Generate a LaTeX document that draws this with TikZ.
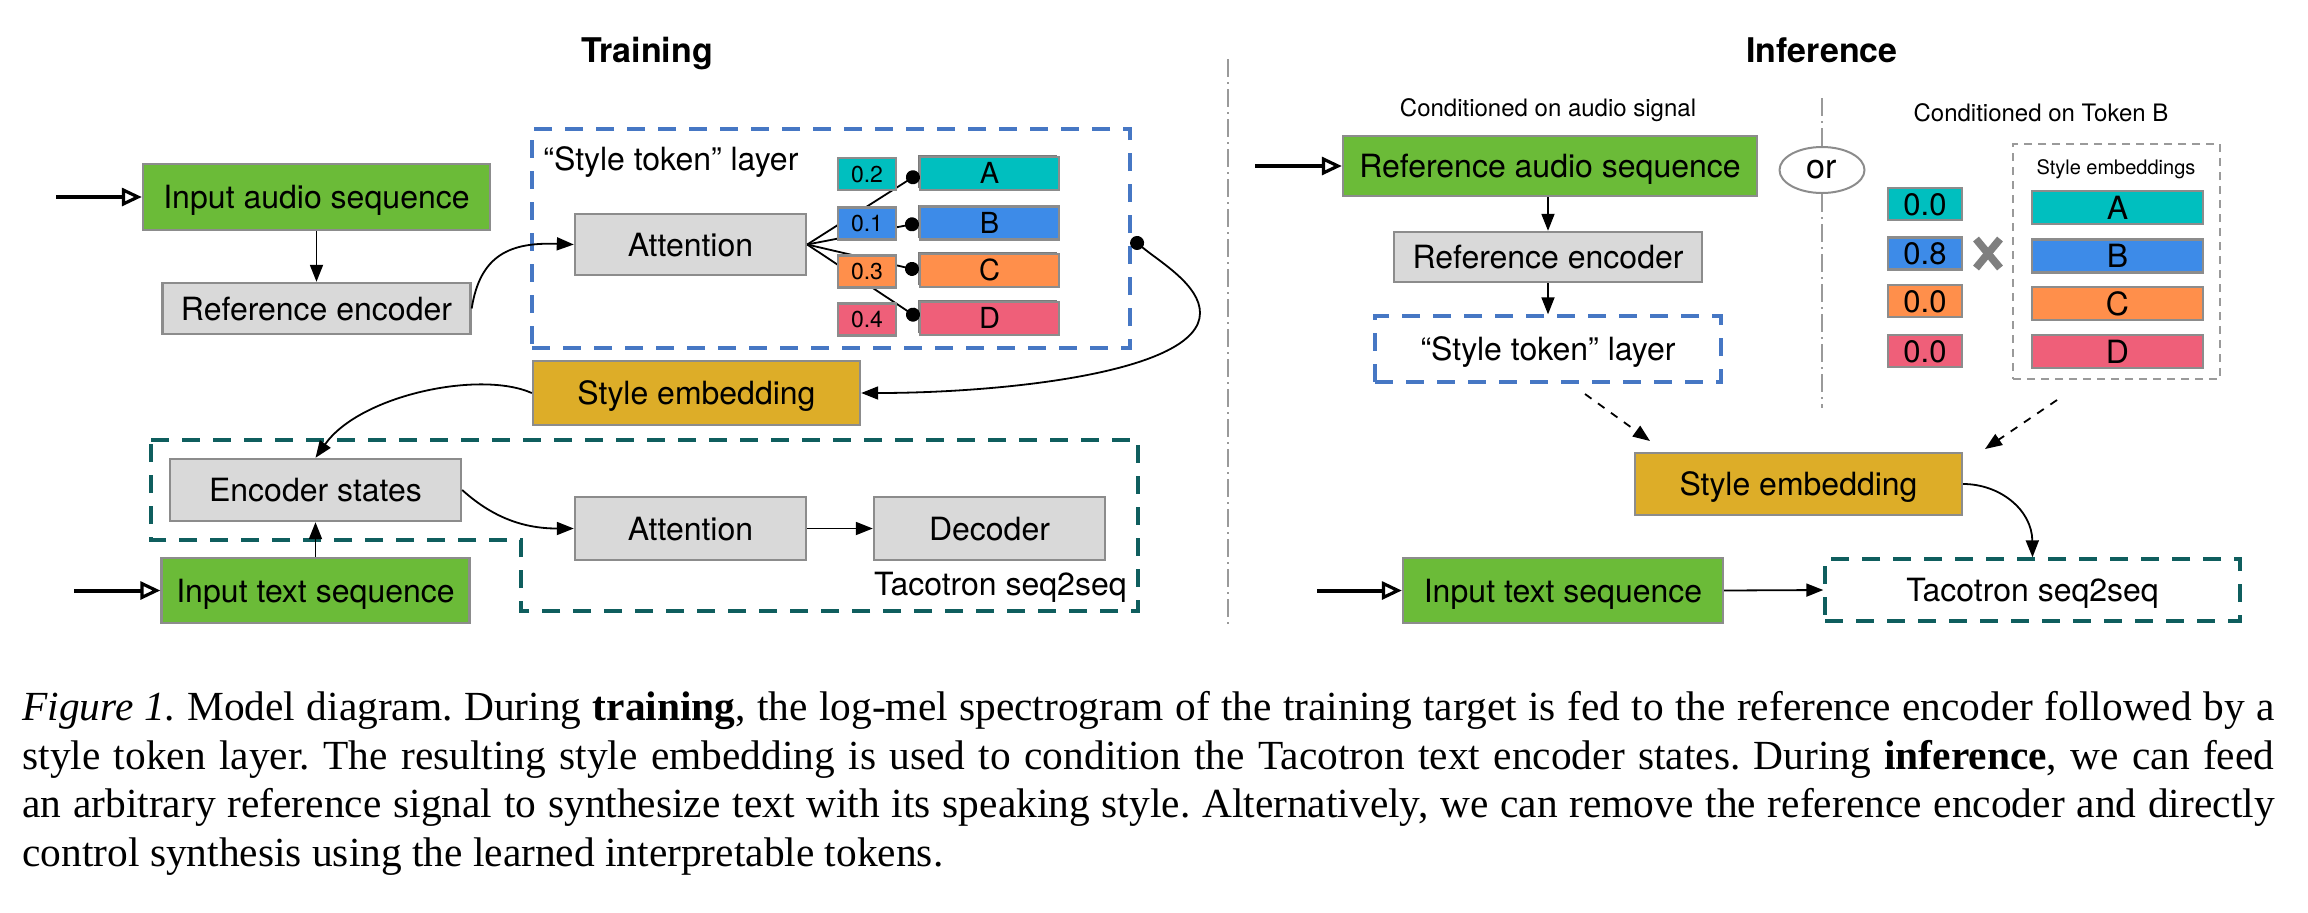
\documentclass[tikz,border=0pt]{standalone}
\usepackage{fontspec}
\setmainfont{TeX Gyre Heros}
\newfontfamily\capfont{Liberation Serif}
\usetikzlibrary{arrows.meta,shapes.geometric,shadows}
\definecolor{gGreen}{HTML}{6BBB38}
\definecolor{bGray}{HTML}{8C8C8C}
\definecolor{boxGray}{HTML}{D9D9D9}
\definecolor{gGold}{HTML}{DDAD28}
\definecolor{tCyan}{HTML}{00BFBF}
\definecolor{tBlue}{HTML}{3D8BE8}
\definecolor{tOrange}{HTML}{FF8F4B}
\definecolor{tRed}{HTML}{EF5F79}
\definecolor{dashBlue}{HTML}{4677C4}
\definecolor{dashTeal}{HTML}{0F5E5E}
\definecolor{shGray}{HTML}{7A7A7A}
\definecolor{sepGray}{HTML}{9A9A9A}
\definecolor{xGray}{HTML}{7F7F7F}
\frenchspacing
\begin{document}
\begin{tikzpicture}[x=0.5pt,y=-0.5pt,
  font=\fontsize{16}{19}\selectfont,
  base/.style={draw=bGray, line width=1.2pt, inner sep=0pt, text height=11.5pt, text depth=0pt},
  greenbox/.style={base, fill=gGreen},
  graybox/.style={base, fill=boxGray},
  goldbox/.style={base, fill=gGold},
  valbox/.style={base, font=\fontsize{11.5}{13}\selectfont, text height=8.3pt, minimum width=29pt, minimum height=16pt},
  tokbox/.style={base, font=\fontsize{14.5}{16}\selectfont, text height=10.4pt, minimum width=69.5pt, minimum height=16.5pt,
     general shadow={fill=shGray, shadow xshift=-1pt, shadow yshift=1pt}},
  valboxB/.style={base, font=\fontsize{15.5}{18}\selectfont, text height=11.2pt, minimum width=37pt, minimum height=16pt},
  tokboxB/.style={base, font=\fontsize{16}{18}\selectfont, text height=11.5pt, minimum width=85.5pt, minimum height=16.5pt},
  lbl/.style={inner sep=0pt, text height=11.5pt, text depth=0pt},
  title/.style={inner sep=0pt, font=\bfseries\fontsize{17}{20}\selectfont, text height=12.2pt, text depth=0pt},
  small/.style={inner sep=0pt, font=\fontsize{12}{14}\selectfont, text height=8.6pt, text depth=0pt},
  tiny/.style={inner sep=0pt, font=\fontsize{10}{12}\selectfont, text height=7.2pt, text depth=0pt},
  arr/.style={-{Triangle[length=8.5pt,width=6.5pt]}, line width=0.9pt},
  darr/.style={-{Triangle[length=8.5pt,width=6.5pt]}, line width=0.9pt, dash pattern=on 4pt off 4pt},
  dotline/.style={-{Circle[length=7pt]}, line width=0.9pt},
  inarr/.style={-{Triangle[open,length=10pt,width=9pt,line width=1.6pt]}, line width=2pt},
  bluedash/.style={draw=dashBlue, line width=1.7pt, dash pattern=on 9pt off 6.5pt},
  tealdash/.style={draw=dashTeal, line width=1.7pt, dash pattern=on 9pt off 6.5pt},
  greydash/.style={draw=sepGray, line width=1pt, dash pattern=on 4pt off 3pt},
  sepline/.style={draw=sepGray, line width=0.7pt, dash pattern=on 9pt off 2.5pt on 1pt off 2.5pt},
  capl/.style={anchor=base west, inner sep=0pt, font=\capfont\fontsize{20.7}{24}\selectfont}
]
\useasboundingbox (0,0) rectangle (2308,912);

% ---------- titles and separator ----------
\node[title] (ttrain) at (647,50) {Training};
\node[title] (tinf) at (1822,50) {Inference};
\coordinate (sepT) at (1228,59);
\coordinate (sepB) at (1228,626);
\draw[sepline] (sepT) -- (sepB);

% ---------- Training ----------
\node[greenbox, minimum width=173.5pt, minimum height=33pt] (inaudio) at (316.5,197) {Input audio sequence};
\coordinate (inaS) at (56,197);
\draw[inarr] (inaS) -- (inaudio.west);
\node[graybox, minimum width=154pt, minimum height=25.5pt] (refenc) at (316.5,308.5) {Reference encoder};
\draw[arr] (inaudio.south) -- (refenc.north);

\node[bluedash, inner sep=0pt, minimum width=299pt, minimum height=109.5pt] (stl) at (831,238.5) {};
\node[lbl, anchor=west] (stllabel) at (543,159) {“Style token” layer};

\node[graybox, minimum width=115.5pt, minimum height=30.5pt] (att1) at (690.5,244.5) {Attention};

\node[tokbox, fill=tCyan] (tA) at (989.5,173.5) {A};
\node[tokbox, fill=tBlue] (tB) at (989.5,223) {B};
\node[tokbox, fill=tOrange] (tC) at (989.5,270.5) {C};
\node[tokbox, fill=tRed] (tD) at (989.5,318.5) {D};

\draw[dotline] (att1.east) -- (tA.west);
\draw[dotline] (att1.east) -- (tB.west);
\draw[dotline] (att1.east) -- (tC.west);
\draw[dotline] (att1.east) -- (tD.west);

\node[valbox, fill=tCyan] (vA) at (867,174) {0.2};
\node[valbox, fill=tBlue] (vB) at (867,223.5) {0.1};
\node[valbox, fill=tOrange] (vC) at (867,271.5) {0.3};
\node[valbox, fill=tRed] (vD) at (867,319.5) {0.4};

\draw[arr] (refenc.east) .. controls (480,255) and (510,242) .. (att1.west);

\node[goldbox, minimum width=163.5pt, minimum height=32pt] (semb) at (696.5,393) {Style embedding};
\draw[{Circle[length=7pt]}-{Triangle[length=8.5pt,width=6.5pt]}, line width=0.9pt]
  (stl.east) .. controls (1160,262) and (1200,285) .. (1200,313)
  .. controls (1200,373) and (1000,393) .. (semb.east);

\draw[tealdash] (151,440) -- (1138,440) -- (1138,611) -- (521,611) -- (521,540) -- (151,540) -- cycle;

\node[graybox, minimum width=145.5pt, minimum height=31pt] (encst) at (315.5,490) {Encoder states};
\draw[arr] (semb.west) .. controls (480,370) and (360,395) .. (encst.north);

\node[graybox, minimum width=115.5pt, minimum height=31.5pt] (att2) at (690.5,528.5) {Attention};
\node[graybox, minimum width=115.5pt, minimum height=31.5pt] (dec) at (989.5,528.5) {Decoder};
\draw[arr] (att2.east) -- (dec.west);
\draw[arr] (encst.east) .. controls (490,515) and (520,528.5) .. (att2.west);
\node[lbl, anchor=east] (taclabel) at (1127,584) {Tacotron seq2seq};

\node[greenbox, minimum width=154pt, minimum height=32.5pt] (intext) at (315.5,590.5) {Input text sequence};
\coordinate (intS) at (74,590.5);
\draw[inarr] (intS) -- (intext.west);
\draw[arr] (intext.north) -- (encst.south);

% ---------- Inference ----------
\node[small] (cond1) at (1548,108) {Conditioned on audio signal};
\node[small] (cond2) at (2041,113) {Conditioned on Token B};

\node[greenbox, minimum width=207pt, minimum height=30pt] (refaud) at (1550,166) {Reference audio sequence};
\coordinate (refaS) at (1255,166);
\draw[inarr] (refaS) -- (refaud.west);
\node[graybox, minimum width=154pt, minimum height=25pt] (refenc2) at (1548,257) {Reference encoder};
\node[bluedash, lbl, minimum width=173pt, minimum height=33pt] (stl2) at (1548,349) {“Style token” layer};
\draw[arr] (refaud.south -| refenc2.north) -- (refenc2.north);
\draw[arr] (refenc2.south) -- (stl2.north);

\node[ellipse, draw=bGray, line width=1pt, inner sep=0pt, minimum width=42.5pt, minimum height=23pt,
      font=\fontsize{17}{20}\selectfont, text height=8.5pt, text depth=0pt] (orn) at (1822,170) {or};
\coordinate (s2T) at (1822,98);
\coordinate (s2B) at (1822,408);
\draw[sepline] (s2T) -- (orn.north);
\draw[sepline] (orn.south) -- (s2B);

\node[valboxB, fill=tCyan] (wA) at (1925,204) {0.0};
\node[valboxB, fill=tBlue] (wB) at (1925,253.5) {0.8};
\node[valboxB, fill=tOrange] (wC) at (1925,301) {0.0};
\node[valboxB, fill=tRed] (wD) at (1925,351) {0.0};

\draw[xGray, line width=3.8pt] (1976,239) -- (2000,268);
\draw[xGray, line width=3.8pt] (2000,239) -- (1976,268);

\node[greydash, inner sep=0pt, minimum width=103.5pt, minimum height=117.5pt] (embs) at (2116.5,261.5) {};
\node[tiny] (embslabel) at (2116,167.5) {Style embeddings};
\node[tokboxB, fill=tCyan] (uA) at (2117.5,207.5) {A};
\node[tokboxB, fill=tBlue] (uB) at (2117.5,256) {B};
\node[tokboxB, fill=tOrange] (uC) at (2117.5,303.5) {C};
\node[tokboxB, fill=tRed] (uD) at (2117.5,351.5) {D};

\node[goldbox, minimum width=163.5pt, minimum height=31pt] (semb2) at (1798.5,484) {Style embedding};
\coordinate (d1s) at (1585,394);
\coordinate (d1e) at (1650,441);
\draw[darr] (d1s) -- (d1e);
\coordinate (d2s) at (2057,400);
\coordinate (d2e) at (1985,449);
\draw[darr] (d2s) -- (d2e);

\node[greenbox, minimum width=160pt, minimum height=32.5pt] (intext2) at (1563,590.5) {Input text sequence};
\coordinate (int2S) at (1317,590.5);
\draw[inarr] (int2S) -- (intext2.west);
\node[tealdash, lbl, minimum width=207.5pt, minimum height=31pt] (tac2) at (2032.5,590) {Tacotron seq2seq};
\draw[arr] (intext2.east) -- (tac2.west);
\draw[arr] (semb2.east) .. controls (2000,484) and (2032,510) .. (tac2.north);

% ---------- caption ----------
\node[capl] (cap1) at (22,720) {\makebox[1126pt][s]{\textit{Figure 1.} Model diagram. During \textbf{training}, the log-mel spectrogram of the training target is fed to the reference encoder followed by a}};
\node[capl] (cap2) at (22,769) {\makebox[1126pt][s]{style token layer. The resulting style embedding is used to condition the Tacotron text encoder states. During \textbf{inference}, we can feed}};
\node[capl] (cap3) at (22,817) {\makebox[1126pt][s]{an arbitrary reference signal to synthesize text with its speaking style. Alternatively, we can remove the reference encoder and directly}};
\node[capl] (cap4) at (22,866) {control synthesis using the learned interpretable tokens.};
\end{tikzpicture}
\end{document}
